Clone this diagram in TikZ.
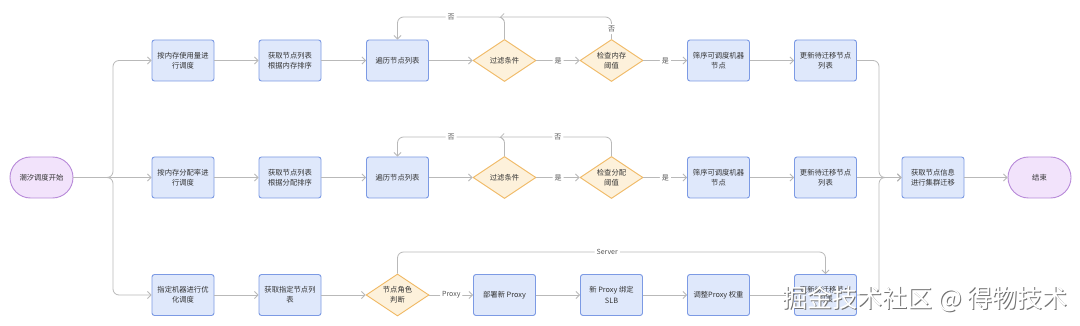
\documentclass[tikz,border=0pt]{standalone}
\usepackage{fontspec}
\setmainfont{Noto Sans CJK SC}
\usetikzlibrary{shapes.geometric,arrows.meta}
\definecolor{boxfill}{HTML}{DFE8FB}
\definecolor{boxline}{HTML}{7C9AE4}
\definecolor{diafill}{HTML}{FDF1DB}
\definecolor{dialine}{HTML}{F0B862}
\definecolor{stafill}{HTML}{F2E3FB}
\definecolor{staline}{HTML}{B88AD9}
\definecolor{conncol}{HTML}{B9B9B9}
\definecolor{txtcol}{HTML}{333333}
\definecolor{lblcol}{HTML}{555555}
\tikzset{
  base/.style={font=\fontsize{7.3}{10.3}\selectfont, text=txtcol, align=center, line width=0.9pt, inner sep=0pt},
  box/.style={base, rectangle, rounded corners=2.5pt, draw=boxline, fill=boxfill, minimum width=62pt, minimum height=41pt},
  dia/.style={base, diamond, aspect=1.5, draw=dialine, fill=diafill, minimum width=63pt, minimum height=42pt},
  stadium/.style={base, rectangle, rounded corners=20.5pt, draw=staline, fill=stafill, minimum width=63pt, minimum height=41pt},
  conn/.style={draw=conncol, line width=0.8pt, rounded corners=6pt},
  arr/.style={-{Straight Barb[length=3.5pt,width=7pt]}},
  lbl/.style={font=\fontsize{7}{9}\selectfont, text=lblcol, fill=white, inner sep=2pt},
  wmark/.style={font=\fontsize{25}{28}\selectfont, inner sep=0pt, anchor=east},
}
\begin{document}
\begin{tikzpicture}[x=1pt,y=-1pt]
\useasboundingbox[fill=white] (0,0) rectangle (1080,326);
% start / end
\node[stadium] (start) at (41.5,177.5) {潮汐调度开始};
\node[stadium] (end) at (1039.5,177.5) {结束};
% row 1
\node[box] (a1) at (183,60.5) {按内存使用量进\\行调度};
\node[box] (a2) at (290,60.5) {获取节点列表\\根据内存排序};
\node[box] (a3) at (397.5,60.5) {遍历节点列表};
\node[dia] (a4) at (504.5,60.5) {过滤条件};
\node[dia] (a5) at (611.5,60.5) {检查内存\\阈值};
\node[box] (a6) at (718.5,60.5) {筛序可调度机器\\节点};
\node[box] (a7) at (825.5,60.5) {更新待迁移节点\\列表};
% row 2
\node[box] (b1) at (183,177.5) {按内存分配率进\\行调度};
\node[box] (b2) at (290,177.5) {获取节点列表\\根据分配排序};
\node[box] (b3) at (397.5,177.5) {遍历节点列表};
\node[dia] (b4) at (504.5,177.5) {过滤条件};
\node[dia] (b5) at (611.5,177.5) {检查分配\\阈值};
\node[box] (b6) at (718.5,177.5) {筛序可调度机器\\节点};
\node[box] (b7) at (825.5,177.5) {更新待迁移节点\\列表};
\node[box] (fin) at (933,177.5) {获取节点信息\\进行集群迁移};
% row 3
\node[box] (c1) at (183,295) {指定机器进行优\\化调度};
\node[box] (c2) at (290,295) {获取指定节点列\\表};
\node[dia] (c3) at (397.5,295) {节点角色\\判断};
\node[box] (c4) at (504.5,295) {部署新 Proxy};
\node[box] (c5) at (611.5,295) {新 Proxy 绑定\\SLB};
\node[box] (c6) at (718.5,295) {调整Proxy 权重};
\node[box] (c7) at (825.5,295) {更新待迁移节点\\列表};
% left bus
\coordinate (lb) at (113,177.5);
\draw[conn,arr] (start.east) -- (lb) |- (a1.west);
\draw[conn,arr] (start.east) -- (b1.west);
\draw[conn,arr] (start.east) -- (lb) |- (c1.west);
% row 1 flow
\draw[conn,arr] (a1) -- (a2);
\draw[conn,arr] (a2) -- (a3);
\draw[conn,arr] (a3) -- (a4);
\draw[conn,arr] (a4) -- node[lbl] {是} (a5);
\draw[conn,arr] (a5) -- node[lbl] {是} (a6);
\draw[conn,arr] (a6) -- (a7);
\draw[conn,arr] (a4.north) -- (504.5,17) -- node[lbl] {否} (397.5,17) -- (a3.north);
\draw[conn,arr] (a5.north) -- node[lbl,pos=0.45] {否} (611.5,17) -- (500,17);
% row 2 flow
\draw[conn,arr] (b1) -- (b2);
\draw[conn,arr] (b2) -- (b3);
\draw[conn,arr] (b3) -- (b4);
\draw[conn,arr] (b4) -- node[lbl] {是} (b5);
\draw[conn,arr] (b5) -- node[lbl] {是} (b6);
\draw[conn,arr] (b6) -- (b7);
\draw[conn,arr] (b4.north) -- (504.5,137) -- node[lbl] {否} (397.5,137) -- (b3.north);
\draw[conn,arr] (b5.north) -- (611.5,137) -- node[lbl,pos=0.48] {否} (500,137);
% row 3 flow
\draw[conn,arr] (c1) -- (c2);
\draw[conn,arr] (c2) -- (c3);
\draw[conn,arr] (c3) -- node[lbl] {Proxy} (c4);
\draw[conn,arr] (c4) -- (c5);
\draw[conn,arr] (c5) -- (c6);
\draw[conn,arr] (c6) -- (c7);
\draw[conn,arr] (c3.north) -- (397.5,252) -- node[lbl,pos=0.49] {Server} (825.5,252) -- (c7.north);
% right bus
\coordinate (rb) at (879,177.5);
\draw[conn,arr] (a7.east) -| (rb) -- (fin.west);
\draw[conn,arr] (b7.east) -- (fin.west);
\draw[conn,arr] (c7.east) -| (rb) -- (fin.west);
\draw[conn,arr] (fin) -- (end);
% watermark
\node[wmark, text=black!55] (wm0) at (1068.8,300.3) {掘金技术社区 @ 得物技术};
\node[wmark, text=white] (wm) at (1067.5,299) {掘金技术社区 @ 得物技术};
\end{tikzpicture}
\end{document}
